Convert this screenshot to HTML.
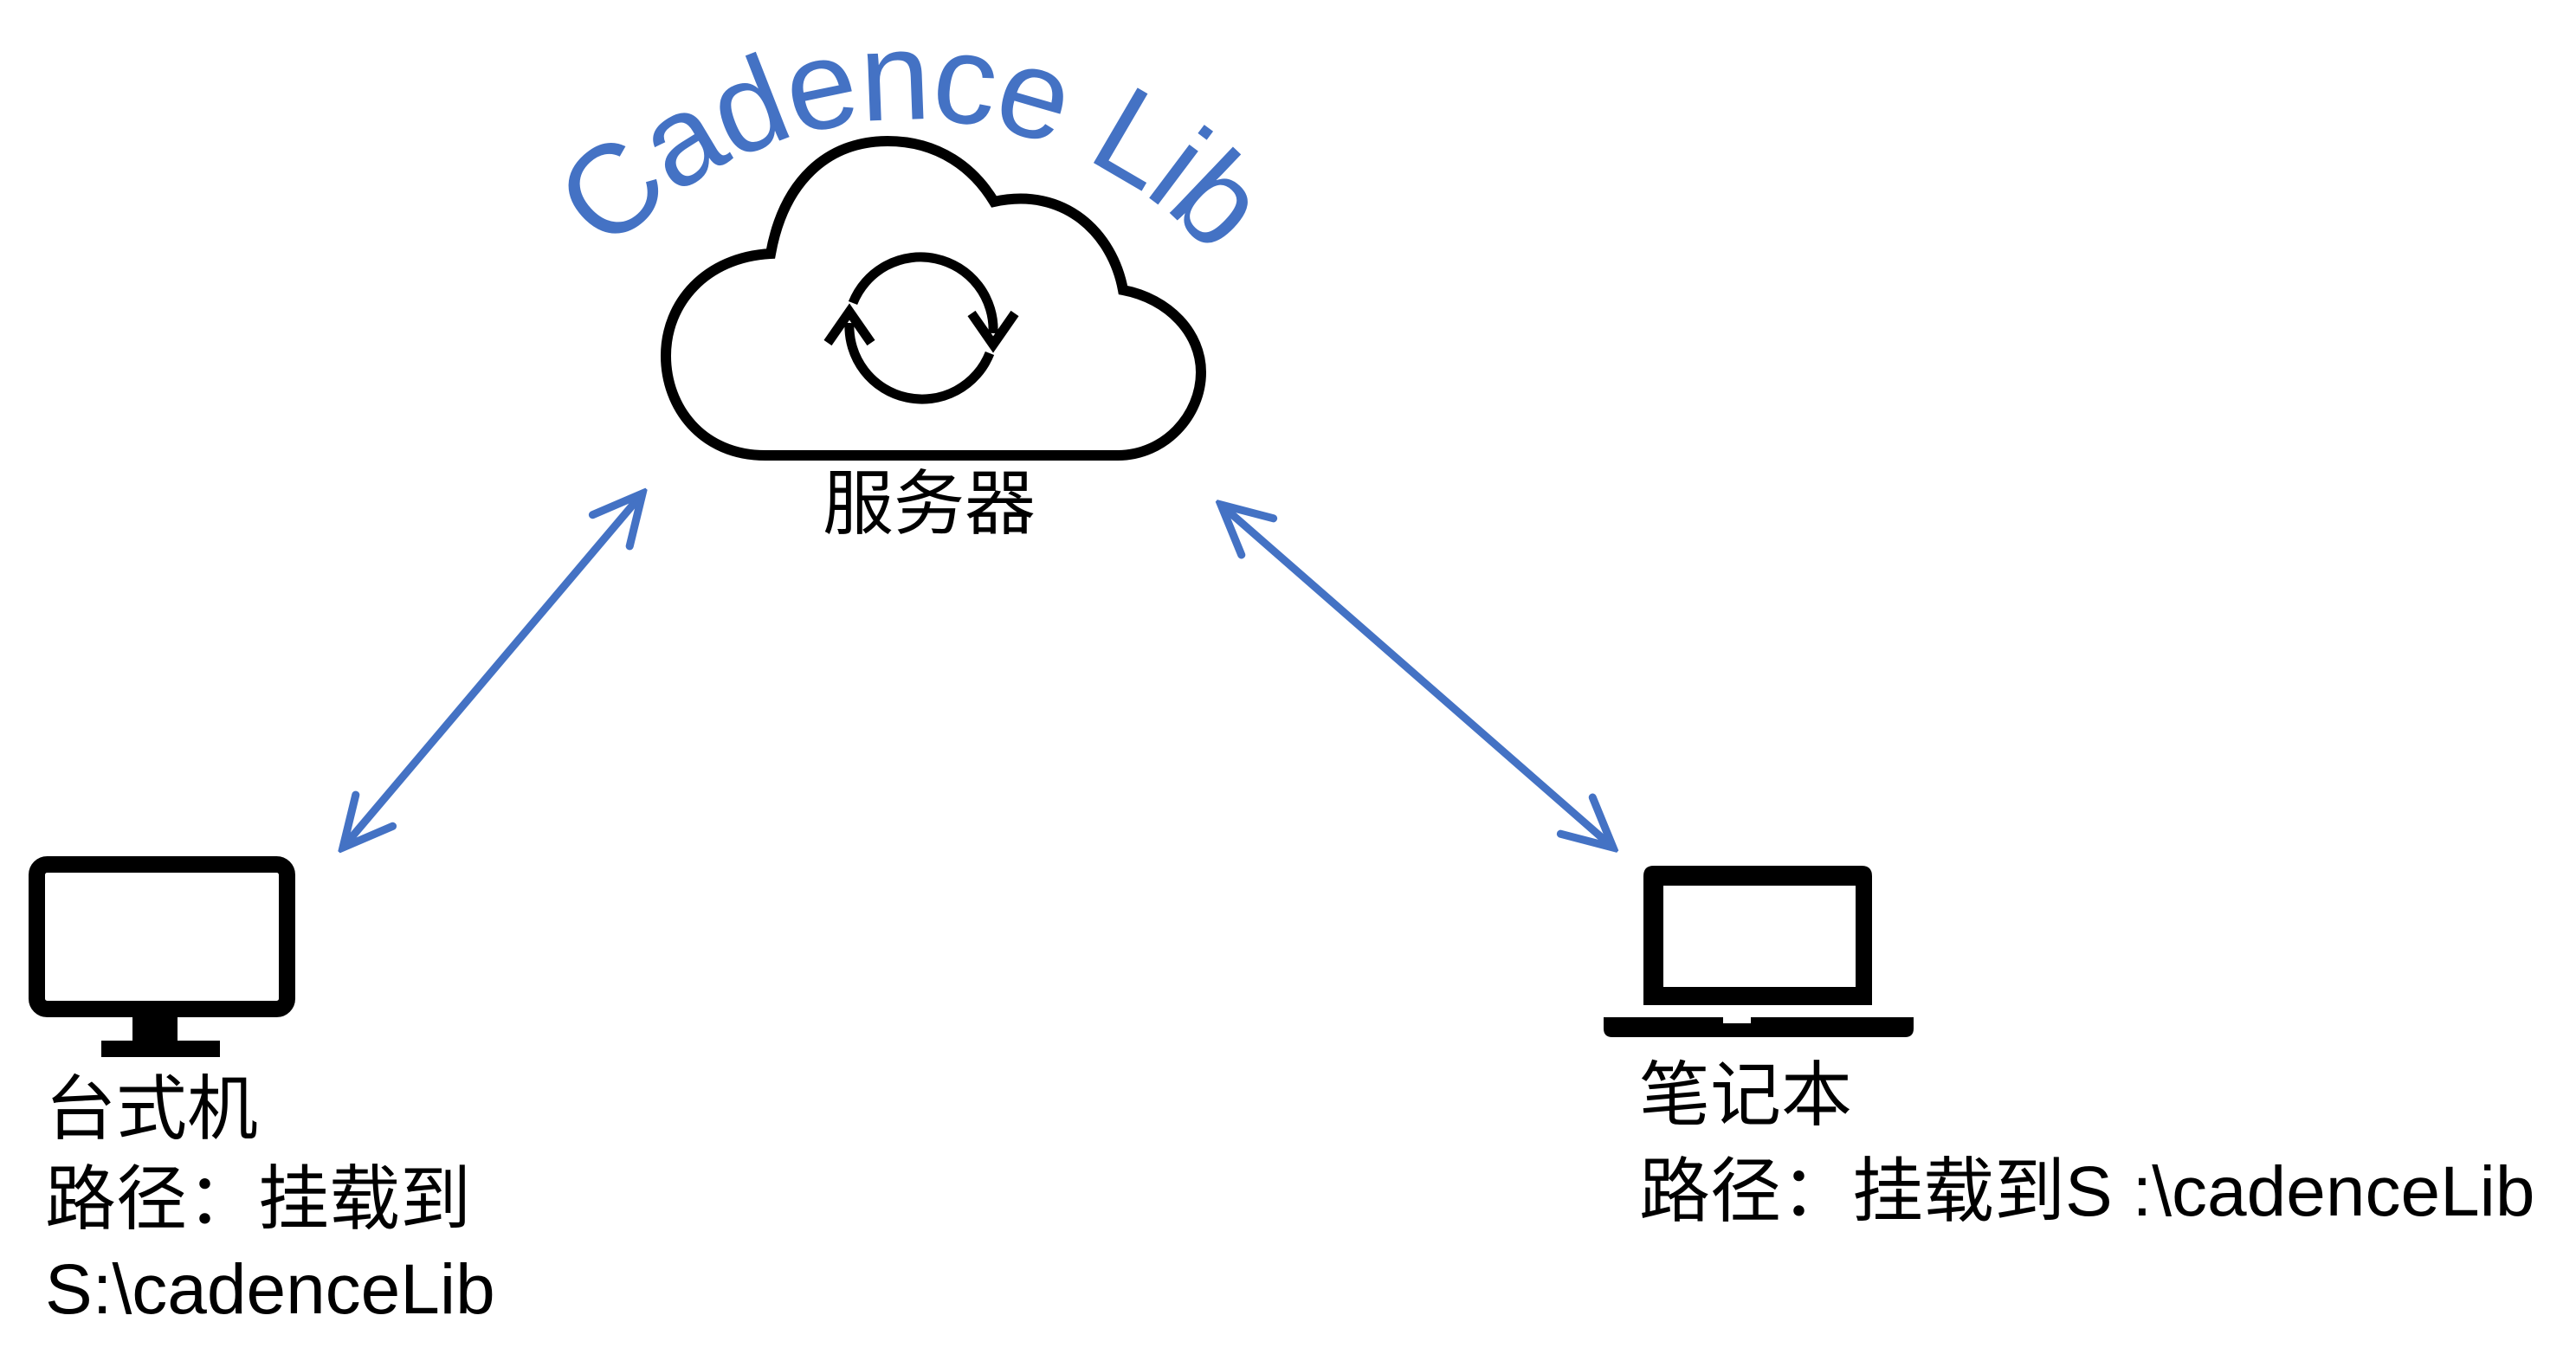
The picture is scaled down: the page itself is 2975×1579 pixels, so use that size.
<!DOCTYPE html>
<html><head><meta charset="utf-8"><style>
html,body{margin:0;padding:0;background:#fff;}
body{width:2975px;height:1579px;position:relative;overflow:hidden;}
.t{position:absolute;font-family:"Liberation Sans","Noto Sans CJK SC",sans-serif;font-size:82px;color:#000;white-space:nowrap;}
</style></head><body>
<svg width="2975" height="1579" style="position:absolute;left:0;top:0">
<defs>
<marker id="ah" viewBox="0 0 20 20" refX="18" refY="10" markerWidth="70" markerHeight="70" markerUnits="userSpaceOnUse" orient="auto-start-reverse">
<path d="M2,2 L18,10 L2,18" fill="none" stroke="#4472C4" stroke-width="2.6" stroke-linecap="round" stroke-linejoin="miter"/>
</marker>
<path id="arc" d="M585,604 A466,466 0 0 1 1517,604"/>
</defs>
<text font-family="Liberation Sans, sans-serif" font-size="146" letter-spacing="-3" fill="#4472C4"><textPath href="#arc" startOffset="50%" text-anchor="middle">Cadence Lib</textPath></text>
<path d="M884,526 C810,526 769,470 769,411 C769,350 815,297 890,293 C905,210 955,163 1025,163 C1085,163 1125,195 1148,233 C1230,215 1285,270 1297,335 C1350,345 1387,385 1387,430 C1387,480 1345,526 1291,526 Z" fill="none" stroke="#000" stroke-width="12" stroke-linejoin="miter"/>
<path d="M985,350 A84,84 0 0 1 1147,385" fill="none" stroke="#000" stroke-width="11"/>
<path d="M1122,362 L1147,398 L1172,362" fill="none" stroke="#000" stroke-width="11"/>
<path d="M1143,408 A84,84 0 0 1 981,373" fill="none" stroke="#000" stroke-width="11"/>
<path d="M956,396 L981,360 L1006,396" fill="none" stroke="#000" stroke-width="11"/>
<line x1="742" y1="570" x2="396" y2="979" stroke="#4472C4" stroke-width="9" marker-start="url(#ah)" marker-end="url(#ah)"/>
<line x1="1410" y1="583" x2="1863" y2="979" stroke="#4472C4" stroke-width="9" marker-start="url(#ah)" marker-end="url(#ah)"/>
<rect x="42.5" y="998.5" width="289" height="167" rx="12" fill="none" stroke="#000" stroke-width="19"/>
<rect x="153" y="1174" width="52" height="30" fill="#000"/>
<rect x="117" y="1202" width="137" height="19" fill="#000"/>
<path d="M1898,1175 L1898,1012 Q1898,1000 1910,1000 L2150,1000 Q2162,1000 2162,1012 L2162,1161 L1898,1161 Z M1921,1023 L1921,1140 L2143,1140 L2143,1023 Z" fill="#000" fill-rule="evenodd"/>
<path d="M1852,1175 L1990,1175 L1990,1182 L2022,1182 L2022,1175 L2210,1175 L2210,1188 Q2210,1198 2200,1198 L1862,1198 Q1852,1198 1852,1188 Z" fill="#000"/>
</svg>
<div class="t" style="left:950px;top:538px;line-height:90px;">服务器</div>
<div class="t" style="left:52px;top:1230px;line-height:104px;">台式机<br>路径：挂载到<br>S:\cadenceLib</div>
<div class="t" style="left:1893px;top:1210px;line-height:111px;">笔记本<br>路径：挂载到S :\cadenceLib</div>
</body></html>
